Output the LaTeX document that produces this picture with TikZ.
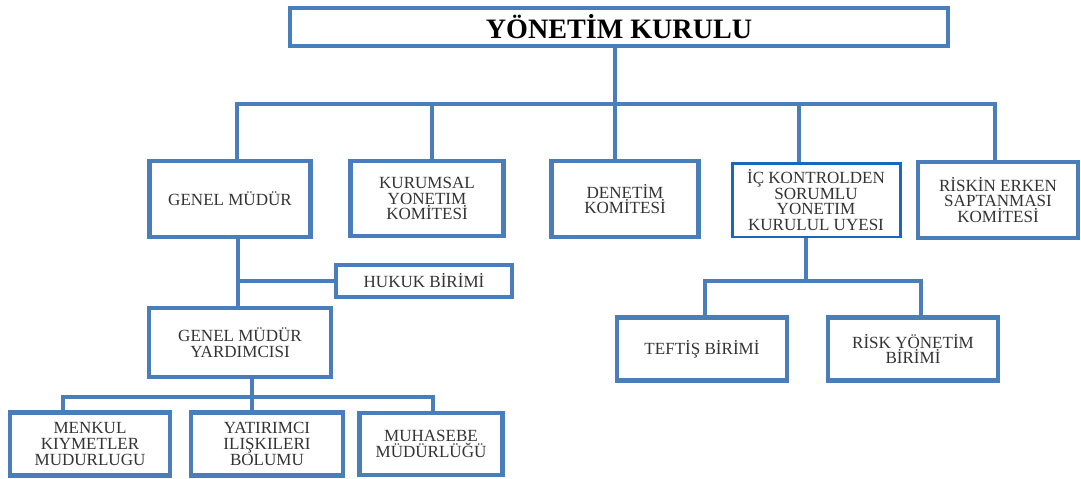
\documentclass[tikz,border=0pt]{standalone}
\usepackage{fontspec}
\setmainfont{Liberation Serif}
\usepackage{tikz}

\definecolor{orgblue}{RGB}{74,126,187}
\definecolor{orgbright}{RGB}{24,104,192}

\begin{document}
\begin{tikzpicture}[x=0.02cm, y=-0.02cm,
    every node/.style={draw=orgblue, line width=2.4pt, fill=white, align=center,
      inner sep=0pt, text=black!80, font=\fontsize{9.7}{8.9}\selectfont},
    unit/.style={minimum width=#1*0.02cm},
    link/.style={draw=orgblue, line width=2.4pt}
    ]
    \useasboundingbox (0,0) rectangle (1081,478);

    % board
    \node[unit=658, minimum height=0.76cm, font=\fontsize{16}{18}\selectfont\bfseries, text=black] (board) at (619,27) {YÖNETİM KURULU};

    % first row
    \node[unit=161, minimum height=1.52cm] (gm)  at (230,199)   {GENEL MÜDÜR};
    \node[unit=153, minimum height=1.5cm]  (kur) at (427,198.5) {KURUMSAL\\YONETIM\\KOMİTESİ};
    \node[unit=147, minimum height=1.52cm] (den) at (625,199)   {DENETİM\\KOMİTESİ};
    \node[unit=168, minimum height=1.48cm, draw=orgbright, line width=1.7pt] (ick) at (816,200) {İÇ KONTROLDEN\\SORUMLU\\YONETIM\\KURULUL UYESI};
    \node[unit=160, minimum height=1.52cm] (rsk) at (998,200)   {RİSKİN ERKEN\\SAPTANMASI\\KOMİTESİ};

    % under genel mudur
    \node[unit=176, minimum height=0.64cm] (huk) at (424,281)   {HUKUK BİRİMİ};
    \node[unit=182, minimum height=1.38cm] (gmy) at (240,342.5) {GENEL MÜDÜR\\YARDIMCISI};

    \node[unit=160, minimum height=1.26cm] (mkm) at (90,444)    {MENKUL\\KIYMETLER\\MUDURLUGU};
    \node[unit=152, minimum height=1.26cm] (yat) at (267,444)   {YATIRIMCI\\ILIŞKILERI\\BOLUMU};
    \node[unit=143, minimum height=1.24cm] (muh) at (431,444)   {MUHASEBE\\MÜDÜRLÜĞÜ};

    % under ic kontrol
    \node[unit=170, minimum height=1.26cm] (tef) at (702,349)   {TEFTİŞ BİRİMİ};
    \node[unit=170, minimum height=1.26cm] (rym) at (913,349)   {RİSK YÖNETİM\\BİRİMİ};

    % connectors
    \coordinate (bus)  at (615,104);
    \coordinate (busL) at (237,104);
    \coordinate (busK) at (432,104);
    \coordinate (busI) at (799,104);
    \coordinate (busR) at (995,104);
    \draw[link] (board.south -| bus) -- (bus);
    \draw[link] (busL |- gm.north) -- (busL) -- (busR) -- (busR |- rsk.north);
    \draw[link] (bus) -- (bus |- den.north);
    \draw[link] (busK) -- (busK |- kur.north);
    \draw[link] (busI) -- (busI |- ick.north);

    \coordinate (gmx) at (238,281);
    \draw[link] (gmx |- gm.south) -- (gmx |- gmy.north);
    \draw[link] (gmx) -- (huk.west);

    \coordinate (low)  at (252,397);
    \coordinate (lowL) at (63,397);
    \coordinate (lowR) at (433,397);
    \draw[link] (low |- gmy.south) -- (low |- yat.north);
    \draw[link] (lowL |- mkm.north) -- (lowL) -- (lowR) -- (lowR |- muh.north);

    \coordinate (ickx) at (806,281);
    \coordinate (ickL) at (705,281);
    \coordinate (ickR) at (921,281);
    \draw[link] (ickx |- ick.south) -- (ickx);
    \draw[link] (ickL |- tef.north) -- (ickL) -- (ickR) -- (ickR |- rym.north);
  \end{tikzpicture}
\end{document}
